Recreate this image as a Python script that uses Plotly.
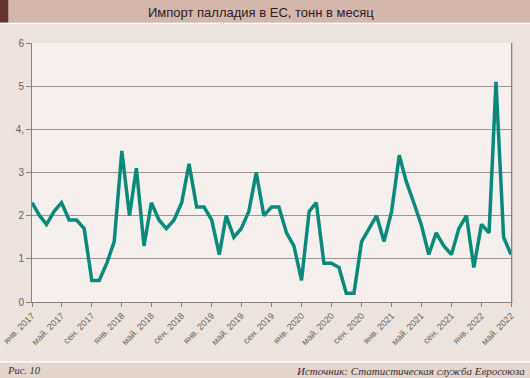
import plotly.graph_objects as go
import pandas as pd

# Monthly palladium imports to the EU, tonnes (Jan 2017 – May 2022)
months = pd.date_range("2017-01-01", "2022-05-01", freq="MS")
values = [
    2.3, 2.0, 1.8, 2.1, 2.3, 1.9, 1.9, 1.7, 0.5, 0.5, 0.9, 1.4,   # 2017
    3.5, 2.0, 3.1, 1.3, 2.3, 1.9, 1.7, 1.9, 2.3, 3.2, 2.2, 2.2,   # 2018
    1.9, 1.1, 2.0, 1.5, 1.7, 2.1, 3.0, 2.0, 2.2, 2.2, 1.6, 1.3,   # 2019
    0.5, 2.1, 2.3, 0.9, 0.9, 0.8, 0.2, 0.2, 1.4, 1.7, 2.0, 1.4,   # 2020
    2.1, 3.4, 2.8, 2.3, 1.8, 1.1, 1.6, 1.3, 1.1, 1.7, 2.0, 0.8,   # 2021
    1.8, 1.6, 5.1, 1.5, 1.1,                                      # 2022
]

tick_dates = pd.date_range("2017-01-01", "2022-05-01", freq="4MS")
tick_labels = [
    "янв. 2017", "май. 2017", "сен. 2017",
    "янв. 2018", "май. 2018", "сен. 2018",
    "янв. 2019", "май. 2019", "сен. 2019",
    "янв. 2020", "май. 2020", "сен. 2020",
    "янв. 2021", "май. 2021", "сен. 2021",
    "янв. 2022", "май. 2022",
]
y_ticks = [0, 1, 2, 3, 4, 5, 6]
y_labels = ["0", "1", "2", "3", "4,", "5", "6"]

title_text = "Импорт палладия в ЕС, тонн в месяц"
fig_label = "Рис. 10"
source_text = "Источник: Статистическая служба Евросоюза"

W, H = 530, 378
L, R, T, B = 32, 19, 43, 76
pw, ph = W - L - R, H - T - B


def px_x(p):
    return (p - L) / pw


def px_y(p):
    return (H - B - p) / ph


fig = go.Figure()
fig.add_trace(go.Scatter(
    x=months, y=values, mode="lines",
    line=dict(color="#0b897a", width=3.5),
    hoverinfo="skip", showlegend=False,
))

shapes = [
    # title bar
    dict(type="rect", xref="paper", yref="paper", x0=px_x(0), x1=px_x(W),
         y0=px_y(22.7), y1=px_y(0), fillcolor="#d3b7ad", line_width=0, layer="above"),
    dict(type="rect", xref="paper", yref="paper", x0=px_x(0), x1=px_x(8.3),
         y0=px_y(22.7), y1=px_y(0), fillcolor="#653430", line_width=0, layer="above"),
    dict(type="rect", xref="paper", yref="paper", x0=px_x(0), x1=px_x(W),
         y0=px_y(24), y1=px_y(22.7), fillcolor="#ffffff", line_width=0, layer="above"),
    # footer band
    dict(type="rect", xref="paper", yref="paper", x0=px_x(0), x1=px_x(W),
         y0=px_y(362.7), y1=px_y(361), fillcolor="#ffffff", line_width=0, layer="above"),
    dict(type="rect", xref="paper", yref="paper", x0=px_x(0), x1=px_x(W),
         y0=px_y(H), y1=px_y(362.7), fillcolor="#e4d5cd", line_width=0, layer="above"),
    # slight shadow on the right edge of the plot
    dict(type="rect", xref="paper", yref="paper", x0=1.0, x1=px_x(513),
         y0=px_y(303), y1=1.0, fillcolor="#cfc6c1", line_width=0, layer="below"),
]

annotations = [
    dict(text=title_text, xref="paper", yref="paper", x=px_x(261), y=px_y(12),
         xanchor="center", yanchor="middle", showarrow=False,
         font=dict(family="Liberation Sans, Arial, sans-serif", size=13, color="#2a2222")),
    dict(text="<i>" + fig_label + "</i>", xref="paper", yref="paper", x=px_x(5), y=px_y(370.5),
         xanchor="left", yanchor="middle", showarrow=False,
         font=dict(family="Liberation Serif, serif", size=10.5, color="#3a3232")),
    dict(text="<i>" + source_text + "</i>", xref="paper", yref="paper", x=px_x(527), y=px_y(370.5),
         xanchor="right", yanchor="middle", showarrow=False,
         font=dict(family="Liberation Serif, serif", size=11, color="#3a3232")),
]

fig.update_layout(
    width=W, height=H,
    margin=dict(l=L, r=R, t=T, b=B, pad=0, autoexpand=False),
    paper_bgcolor="#ece3de",
    plot_bgcolor="#f5f0ed",
    shapes=shapes,
    annotations=annotations,
    xaxis=dict(
        range=[months[0], months[-1]], automargin=False,
        tickmode="array", tickvals=tick_dates, ticktext=tick_labels,
        tickangle=-45, ticks="outside", ticklen=4, tickcolor="#8a8380",
        showline=True, linecolor="#8a8380", linewidth=1,
        showgrid=False, zeroline=False,
        tickfont=dict(family="Liberation Sans, Arial, sans-serif", size=9, color="#6b6360"),
    ),
    yaxis=dict(
        range=[0, 6], automargin=False,
        tickmode="array", tickvals=y_ticks, ticktext=y_labels,
        ticks="outside", ticklen=5, tickcolor="#8a8380",
        showline=True, linecolor="#8a8380", linewidth=1, mirror=True,
        showgrid=True, gridcolor="#9c9592", gridwidth=1, zeroline=False,
        tickfont=dict(family="Liberation Sans, Arial, sans-serif", size=10, color="#6b6360"),
    ),
)

fig.write_html(
    "out.html",
    config={"displayModeBar": False},
    post_script="document.body.style.margin='0';document.body.style.overflow='hidden';",
)
